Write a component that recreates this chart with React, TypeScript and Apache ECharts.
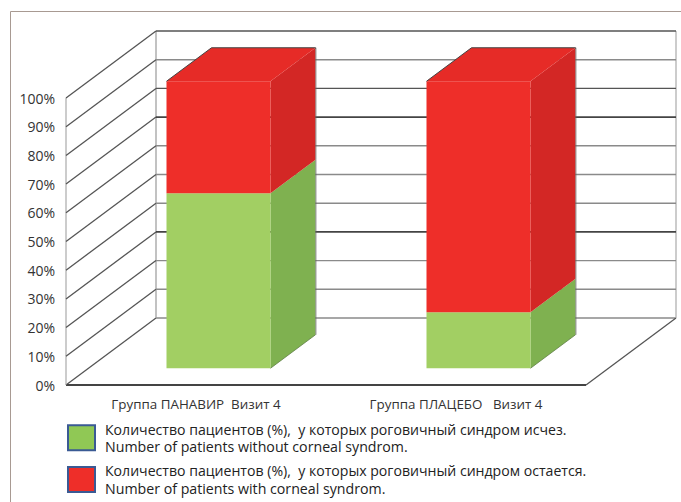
import React, { useEffect, useRef } from "react";
import * as echarts from "echarts";

const categories = ["Группа ПАНАВИР  Визит 4", "Группа ПЛАЦЕБО   Визит 4"];
const withoutSyndrome = [61, 19.5];
const withSyndrome = [39, 80.5];
const yTicks = [0, 10, 20, 30, 40, 50, 60, 70, 80, 90, 100];
const darkTicks = [30, 70];
const seriesNames = [
  "Количество пациентов (%),  у которых роговичный синдром исчез.\nNumber of patients without corneal syndrom.",
  "Количество пациентов (%),  у которых роговичный синдром остается.\nNumber of patients with corneal syndrom.",
];

const DX = 90;
const DY = -67;
const FONT = "'Open Sans', sans-serif";

const GREEN = { front: "#a2cf63", side: "#7fb150", top: "#8fc05a" };
const RED = { front: "#ee2e29", side: "#d32725", top: "#e62b27" };

const barRender = (palette: typeof GREEN, capped: boolean) => (params: any, api: any) => {
  const cat = api.value(0);
  const lo = api.coord([cat, api.value(1)]);
  const hi = api.coord([cat, api.value(2)]);
  const w = api.size([1, 0])[0] * 0.4;
  const fx = 0.25 * DX;
  const fy = 0.25 * DY;
  const bx = 0.5 * DX;
  const by = 0.5 * DY;
  const x0 = lo[0] - w / 2 + fx;
  const x1 = x0 + w;
  const yb = lo[1] + fy;
  const yt = hi[1] + fy;
  const children: any[] = [
    { type: "polygon", shape: { points: [[x1, yb], [x1 + bx, yb + by], [x1 + bx, yt + by], [x1, yt]] }, style: { fill: palette.side } },
    { type: "rect", shape: { x: x0, y: yt, width: w, height: yb - yt }, style: { fill: palette.front } },
  ];
  if (capped) {
    children.push(
      { type: "polygon", shape: { points: [[x0, yt], [x0 + bx, yt + by], [x1 + bx, yt + by], [x1, yt]] }, style: { fill: palette.top } },
      { type: "polyline", shape: { points: [[x0, yt], [x0 + bx, yt + by], [x1 + bx, yt + by], [x1 + bx, yt + by + 1]] }, style: { fill: "none", stroke: "#444", lineWidth: 1 } },
    );
  }
  children.push({ type: "line", shape: { x1: x1 + bx + 0.4, y1: yt + by, x2: x1 + bx + 0.4, y2: yb + by }, style: { stroke: "#666", lineWidth: 0.8 } });
  if (!capped) {
    children.push({ type: "line", shape: { x1, y1: yb, x2: x1 + bx, y2: yb + by }, style: { stroke: "#5f7f45", lineWidth: 0.8 } });
  }
  return { type: "group", children };
};

const wallRender = (params: any, api: any) => {
  const v = api.value(0);
  const [cLeft] = api.coord([0, v]);
  const halfBand = api.size([1, 0])[0] / 2;
  const left = cLeft - halfBand;
  const right = left + halfBand * 4;
  const y = api.coord([0, v])[1];
  const dark = darkTicks.includes(v);
  const children: any[] = [
    { type: "line", shape: { x1: left, y1: y, x2: left + DX, y2: y + DY }, style: { stroke: "#555", lineWidth: 1.3 } },
    { type: "line", shape: { x1: left + DX, y1: y + DY, x2: right + DX, y2: y + DY }, style: { stroke: dark ? "#444" : v === 100 || v === 80 ? "#555" : "#8a8a8a", lineWidth: dark ? 1.8 : 1.4 } },
  ];
  if (v === 0) {
    children.push(
      { type: "line", shape: { x1: right, y1: y, x2: right + DX, y2: y + DY }, style: { stroke: "#555", lineWidth: 1.3 } },
      { type: "line", shape: { x1: left, y1: y, x2: right, y2: y }, style: { stroke: "#444", lineWidth: 2 } },
    );
    const top = api.coord([0, 100])[1];
    children.push(
      { type: "line", shape: { x1: left, y1: top, x2: left, y2: y }, style: { stroke: "#999", lineWidth: 1 } },
      { type: "line", shape: { x1: left + DX, y1: top + DY, x2: left + DX, y2: y + DY }, style: { stroke: "#999", lineWidth: 1.2 } },
      { type: "line", shape: { x1: right + DX, y1: top + DY, x2: right + DX, y2: y + DY }, style: { stroke: "#aaa", lineWidth: 1.2 } },
    );
  }
  return { type: "group", children };
};

const richLegend = (name: string) => {
  const [ru, en] = name.split("\n");
  return `{ru|${ru}}\n{en|${en}}`;
};

export default function App() {
  const ref = useRef<HTMLDivElement>(null);
  useEffect(() => {
    document.body.style.margin = "0";
    const chart = echarts.init(ref.current!, undefined, { renderer: "svg" });
    const legendBase = {
      orient: "vertical" as const,
      left: 62,
      itemWidth: 27,
      itemHeight: 25,
      itemGap: 0,
      selectedMode: false,
      icon: "rect",
      formatter: richLegend,
    };
    const legendText = (lh: number) => ({
      padding: [0, 0, 0, 5],
      rich: {
        ru: { fontFamily: FONT, fontSize: 14.1, color: "#222", lineHeight: lh },
        en: { fontFamily: FONT, fontSize: 14.2, color: "#222", lineHeight: lh },
      },
    });
    chart.setOption({
      animation: false,
      backgroundColor: "#fff",
      grid: { left: 66, top: 98, width: 520, height: 287 },
      xAxis: {
        type: "category",
        data: categories,
        axisLine: { show: false },
        axisTick: { show: false },
        axisLabel: { fontFamily: FONT, fontSize: 13.4, color: "#333", margin: 12 },
      },
      yAxis: {
        type: "value",
        min: 0,
        max: 100,
        interval: 10,
        axisLine: { show: false },
        axisTick: { show: false },
        splitLine: { show: false },
        axisLabel: { formatter: "{value}%", fontFamily: FONT, fontSize: 14, color: "#333", margin: 11 },
      },
      legend: [
        { ...legendBase, top: 417, textStyle: legendText(17.5), data: [{ name: seriesNames[0], itemStyle: { color: "#90c855", borderColor: "#3a5a94", borderWidth: 2 } }] },
        { ...legendBase, top: 458.5, textStyle: legendText(18), data: [{ name: seriesNames[1], itemStyle: { color: "#ee2e29", borderColor: "#3a5a94", borderWidth: 2 } }] },
      ],
      graphic: [
        {
          type: "polyline",
          silent: true,
          shape: { points: [[10.5, 502], [10.5, 11.5], [681, 11.5]] },
          style: { fill: "none", stroke: "#a89a92", lineWidth: 1 },
        },
      ],
      series: [
        {
          type: "custom",
          name: "walls",
          silent: true,
          z: 1,
          renderItem: wallRender,
          encode: { y: 0 },
          data: yTicks.map((v) => [v]),
        },
        {
          type: "custom",
          name: seriesNames[0],
          silent: true,
          z: 2,
          itemStyle: { color: "#90c855" },
          renderItem: barRender(GREEN, false),
          encode: { x: 0, y: [1, 2] },
          data: categories.map((_, i) => [i, 0, withoutSyndrome[i]]),
        },
        {
          type: "custom",
          name: seriesNames[1],
          silent: true,
          z: 3,
          itemStyle: { color: "#ee2e29" },
          renderItem: barRender(RED, true),
          encode: { x: 0, y: [1, 2] },
          data: categories.map((_, i) => [i, withoutSyndrome[i], withoutSyndrome[i] + withSyndrome[i]]),
        },
      ],
    });
    return () => chart.dispose();
  }, []);
  return <div ref={ref} style={{ width: 681, height: 502, position: "absolute", left: 0, top: 0 }} />;
}
